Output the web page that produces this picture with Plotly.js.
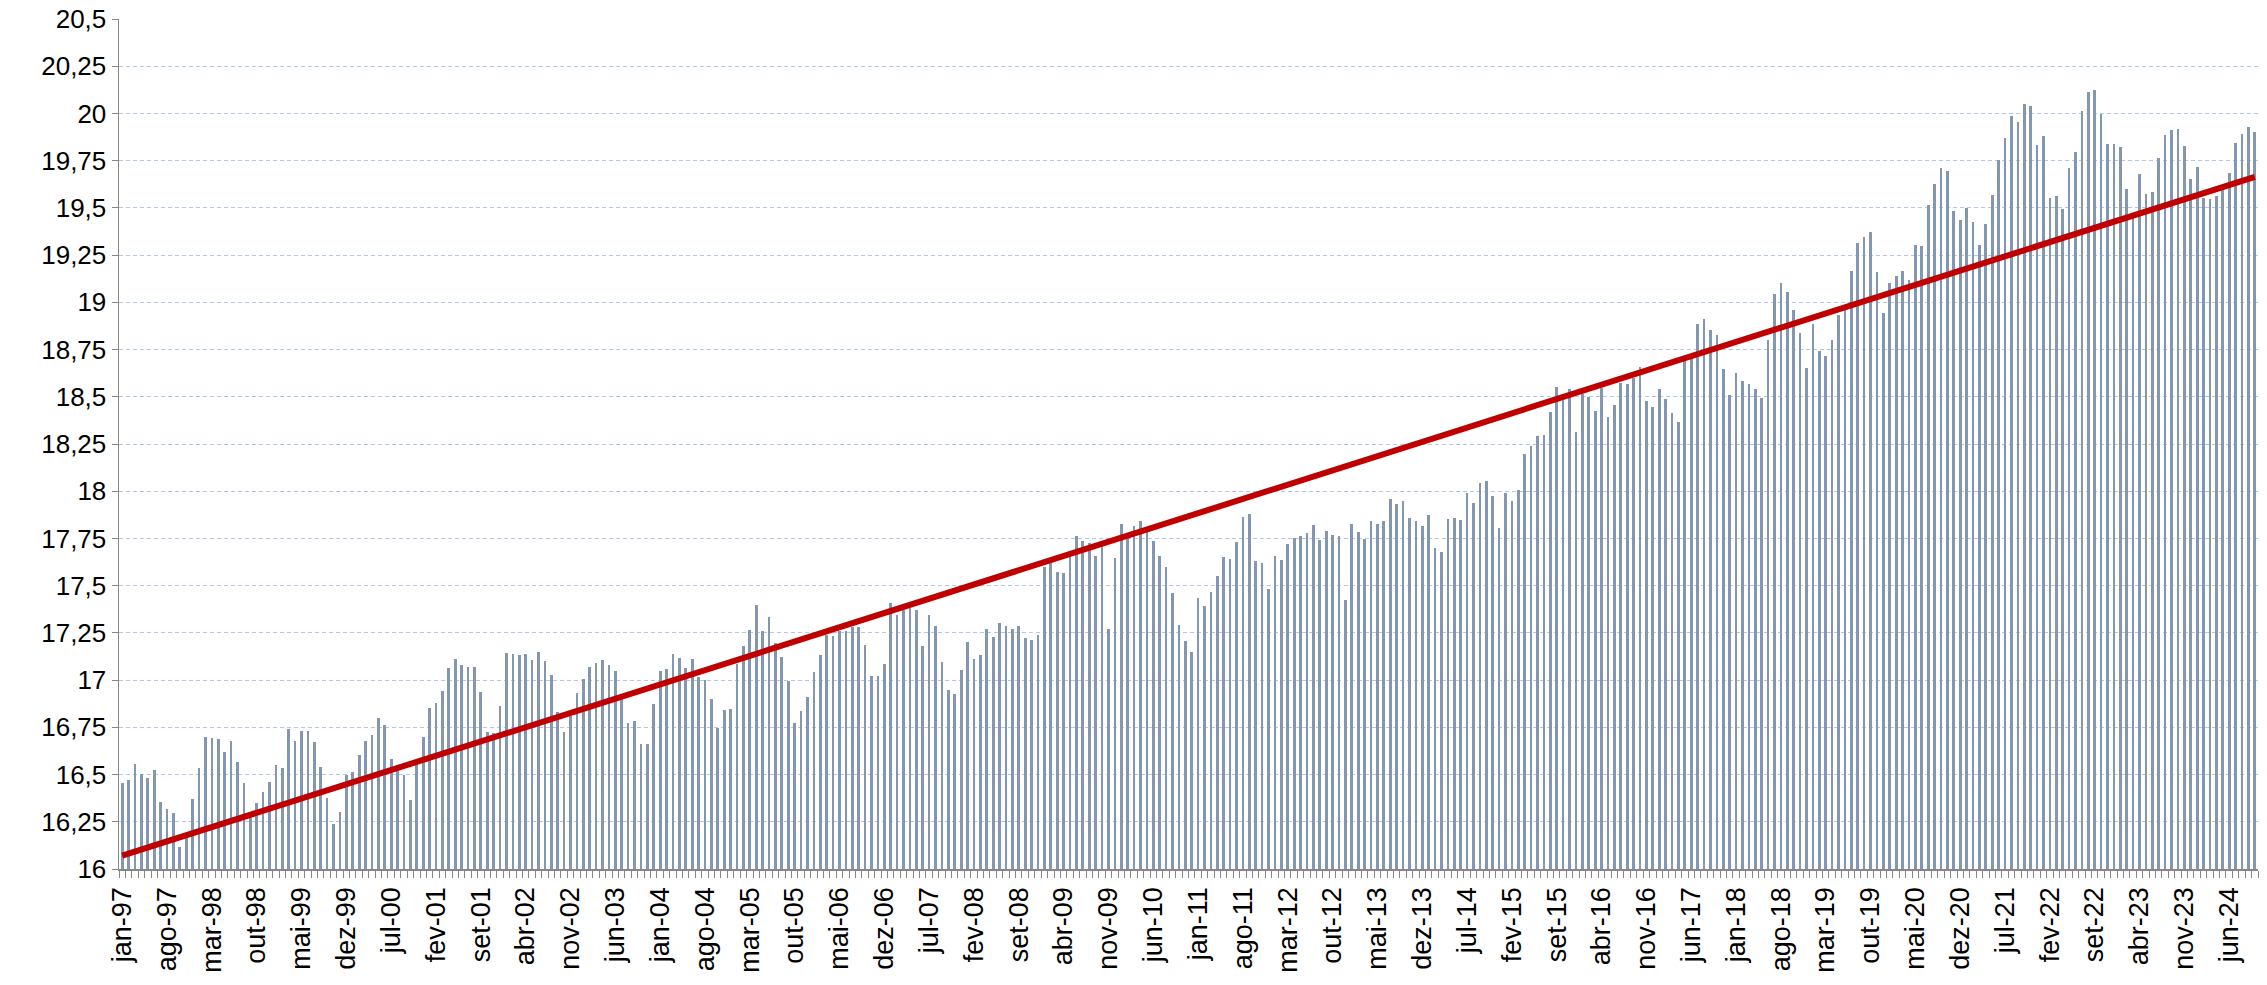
<!DOCTYPE html>
<html>
<head>
<meta charset="utf-8">
<script src="https://cdn.plot.ly/plotly-3.0.1.min.js"></script>
<style>html,body{margin:0;padding:0;background:#fff;}#chart{width:2267px;height:985px;}</style>
</head>
<body>
<div id="chart"></div>
<script>
// Month names (pt-BR abbreviations) and years
const monthNames = ['jan','fev','mar','abr','mai','jun','jul','ago','set','out','nov','dez'];
const years = ['97','98','99','00','01','02','03','04','05','06','07','08','09','10','11','12','13','14','15','16','17','18','19','20','21','22','23','24'];

// Monthly values, one array per year
const v1997 = [16.454,16.47,16.555,16.505,16.48,16.525,16.354,16.317,16.294,16.116,16.18,16.37];
const v1998 = [16.534,16.70,16.692,16.688,16.618,16.676,16.565,16.453,16.27,16.347,16.41,16.458];
const v1999 = [16.551,16.534,16.74,16.676,16.731,16.729,16.673,16.54,16.375,16.238,16.303,16.499];
const v2000 = [16.516,16.604,16.68,16.708,16.80,16.764,16.585,16.53,16.499,16.365,16.57,16.697];
const v2001 = [16.85,16.88,16.942,17.065,17.114,17.079,17.07,17.069,16.935,16.724,16.72,16.863];
const v2002 = [17.144,17.139,17.132,17.136,17.106,17.15,17.099,17.028,16.829,16.724,16.81,16.931];
const v2003 = [17.005,17.07,17.093,17.109,17.079,17.046,16.91,16.771,16.784,16.664,16.664,16.875];
const v2004 = [17.05,17.058,17.139,17.118,17.065,17.113,17.014,17.002,16.902,16.748,16.84,16.848];
const v2005 = [17.086,17.18,17.264,17.396,17.261,17.333,17.199,17.123,16.997,16.773,16.835,16.912];
const v2006 = [17.042,17.134,17.238,17.236,17.261,17.259,17.282,17.282,17.188,17.023,17.021,17.085];
const v2007 = [17.407,17.347,17.372,17.384,17.373,17.181,17.345,17.285,17.097,16.947,16.926,17.051];
const v2008 = [17.204,17.114,17.132,17.269,17.229,17.305,17.289,17.268,17.289,17.224,17.211,17.238];
const v2009 = [17.599,17.618,17.57,17.565,17.653,17.762,17.734,17.724,17.658,17.71,17.268,17.644];
const v2010 = [17.826,17.75,17.815,17.84,17.789,17.736,17.655,17.597,17.463,17.292,17.206,17.15];
const v2011 = [17.435,17.391,17.467,17.549,17.653,17.643,17.729,17.863,17.882,17.629,17.62,17.481];
const v2012 = [17.659,17.636,17.722,17.75,17.761,17.78,17.82,17.74,17.792,17.77,17.762,17.426];
const v2013 = [17.828,17.782,17.748,17.845,17.828,17.84,17.96,17.93,17.947,17.859,17.845,17.814];
const v2014 = [17.872,17.697,17.68,17.854,17.859,17.85,17.99,17.937,18.042,18.055,17.975,17.806];
const v2015 = [17.99,17.949,18.009,18.197,18.241,18.292,18.299,18.419,18.553,18.49,18.542,18.313];
const v2016 = [18.514,18.5,18.426,18.548,18.395,18.456,18.572,18.567,18.602,18.659,18.479,18.447];
const v2017 = [18.542,18.486,18.412,18.368,18.687,18.699,18.886,18.91,18.854,18.828,18.648,18.507];
const v2018 = [18.625,18.581,18.569,18.539,18.491,18.801,19.044,19.102,19.057,18.96,18.838,18.653];
const v2019 = [18.886,18.743,18.715,18.801,18.932,18.97,19.167,19.312,19.345,19.372,19.161,18.942];
const v2020 = [19.104,19.139,19.164,19.116,19.305,19.298,19.513,19.627,19.71,19.696,19.483,19.437];
const v2021 = [19.502,19.423,19.303,19.416,19.567,19.752,19.87,19.988,19.956,20.049,20.039,19.833];
const v2022 = [19.882,19.553,19.562,19.493,19.711,19.796,20.011,20.116,20.123,19.998,19.84,19.838];
const v2023 = [19.822,19.601,19.45,19.68,19.572,19.583,19.766,19.886,19.912,19.919,19.828,19.655];
const v2024 = [19.715,19.55,19.546,19.564,19.62,19.687,19.842,19.891,19.926,19.901];

// Tick labels shown on the x axis (every 7th month)
const tickLabels = ['jan-97','ago-97','mar-98','out-98','mai-99','dez-99','jul-00','fev-01','set-01','abr-02','nov-02','jun-03','jan-04','ago-04','mar-05','out-05','mai-06','dez-06','jul-07','fev-08','set-08','abr-09','nov-09','jun-10','jan-11','ago-11','mar-12','out-12','mai-13','dez-13','jul-14','fev-15','set-15','abr-16','nov-16','jun-17','jan-18','ago-18','mar-19','out-19','mai-20','dez-20','jul-21','fev-22','set-22','abr-23','nov-23','jun-24'];

// Y tick values / labels
const yTickVals = [16,16.25,16.5,16.75,17,17.25,17.5,17.75,18,18.25,18.5,18.75,19,19.25,19.5,19.75,20,20.25,20.5];
const yTickText = ['16','16,25','16,5','16,75','17','17,25','17,5','17,75','18','18,25','18,5','18,75','19','19,25','19,5','19,75','20','20,25','20,5'];

const values = [].concat(v1997,v1998,v1999,v2000,v2001,v2002,v2003,v2004,v2005,v2006,v2007,v2008,v2009,v2010,v2011,v2012,v2013,v2014,v2015,v2016,v2017,v2018,v2019,v2020,v2021,v2022,v2023,v2024);
const monthLabels = values.map((_, i) => monthNames[i % 12] + '-' + years[Math.floor(i / 12)]);
const xIdx = values.map((_, i) => i);

// Tick positions: index of each tick label within the month labels
const tickVals = tickLabels.map(l => monthLabels.indexOf(l));

// Linear trend (least squares), like a spreadsheet trendline
const n = values.length;
const mx = xIdx.reduce((a, b) => a + b, 0) / n;
const my = values.reduce((a, b) => a + b, 0) / n;
let sxy = 0, sxx = 0;
for (let i = 0; i < n; i++) { sxy += (xIdx[i] - mx) * (values[i] - my); sxx += (xIdx[i] - mx) ** 2; }
const slope = sxy / sxx;
const icpt = my - slope * mx;
const trendX = [xIdx[0], xIdx[n - 1]];
const trendY = trendX.map(x => icpt + slope * x);

const font = 'Liberation Sans, Arial, sans-serif';

const traces = [
  {
    type: 'bar', x: xIdx, y: values, base: 0, width: 0.42,
    marker: { color: '#8497B0', line: { width: 0 } },
    hovertext: monthLabels, showlegend: false
  },
  {
    type: 'scatter', mode: 'lines', x: trendX, y: trendY,
    line: { color: '#C00000', width: 6 }, showlegend: false
  }
];

const layout = {
  width: 2267, height: 985,
  margin: { l: 119, r: 9, t: 19, b: 116 },
  paper_bgcolor: '#ffffff', plot_bgcolor: '#ffffff',
  bargap: 0,
  xaxis: {
    type: 'linear', range: [-0.5, n - 0.5],
    tickmode: 'array', tickvals: tickVals, ticktext: tickLabels,
    tickangle: -90, ticks: '', showgrid: false, zeroline: false,
    ticklabelstandoff: 6,
    showline: true, linecolor: '#868686', linewidth: 1.5,
    tickfont: { family: font, size: 27, color: '#000000' },
    minor: { tickmode: 'linear', tick0: -0.5, dtick: 1, ticks: 'outside', ticklen: 7, tickcolor: '#868686', tickwidth: 1, showgrid: false }
  },
  yaxis: {
    range: [16, 20.5], tickmode: 'array', tickvals: yTickVals, ticktext: yTickText,
    showgrid: true, gridcolor: '#B4C7E7', gridwidth: 1, griddash: '4px,3px',
    zeroline: false, showline: true, linecolor: '#868686', linewidth: 1.5,
    ticks: 'outside', ticklen: 6, tickcolor: '#868686',
    tickfont: { family: font, size: 26, color: '#000000' }
  }
};

Plotly.newPlot('chart', traces, layout, { displayModeBar: false, staticPlot: true });
</script>
</body>
</html>
